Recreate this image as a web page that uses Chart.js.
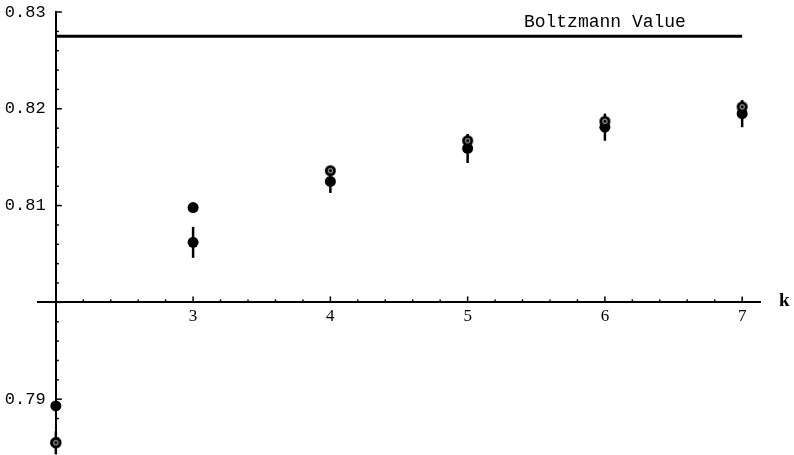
<!DOCTYPE html>
<html>
<head>
<meta charset="utf-8">
<script src="https://cdn.jsdelivr.net/npm/chart.js@4.4.0/dist/chart.umd.min.js"></script>
<style>
  html, body { margin: 0; padding: 0; background: #fff; }
</style>
</head>
<body>
<canvas id="chart" width="794" height="455"></canvas>
<script>
// k on the horizontal axis
const kValues = [2, 3, 4, 5, 6, 7];
// filled points with error bars
const estimate = [0.7855, 0.8062, 0.8125, 0.8159, 0.8181, 0.8195];
const estimateErr = [0.0012, 0.0016, 0.0012, 0.0015, 0.0014, 0.0014];
// ringed points
const ringK = [2, 4, 5, 6, 7];
const ringValues = [0.7855, 0.8136, 0.8167, 0.8187, 0.8202];
// plain filled points
const plainK = [2, 3];
const plainValues = [0.7893, 0.8098];
// reference line
const boltzmannK = [2, 7];
const boltzmann = 0.8275;
const boltzmannText = 'Boltzmann Value';
// tick labels
const xTicks = [3, 4, 5, 6, 7];
const yTicks = [0.79, 0.81, 0.82, 0.83];

const toPoints = (xs, ys) => xs.map((x, i) => ({ x: x, y: ys[i] }));

// black dot with a faint white ring, for the overlapping markers
const ringDot = document.createElement('canvas');
ringDot.width = 13;
ringDot.height = 13;
const rc = ringDot.getContext('2d');
rc.fillStyle = '#000';
rc.beginPath();
rc.arc(6.5, 6.5, 5.5, 0, Math.PI * 2);
rc.fill();
rc.strokeStyle = '#fff';
rc.lineWidth = 0.8;
rc.beginPath();
rc.arc(6.5, 6.5, 2.2, 0, Math.PI * 2);
rc.stroke();

// the axes cross inside the plot, so no room is kept for label overhang
const noOverhang = (s) => {
  s.paddingTop = 0;
  s.paddingBottom = 0;
  s.paddingLeft = 0;
  s.paddingRight = 0;
};

const extras = {
  id: 'extras',
  beforeDatasetsDraw(chart) {
    const { ctx, scales: { x, y } } = chart;
    ctx.save();
    ctx.strokeStyle = '#000';
    ctx.lineWidth = 2.5;
    kValues.forEach((k, i) => {
      const px = x.getPixelForValue(k);
      ctx.beginPath();
      ctx.moveTo(px, y.getPixelForValue(estimate[i] - estimateErr[i]));
      ctx.lineTo(px, y.getPixelForValue(estimate[i] + estimateErr[i]));
      ctx.stroke();
    });
    ctx.restore();
  },
  afterDraw(chart) {
    const { ctx, scales: { x, y } } = chart;
    const x0 = x.getPixelForValue(2);
    const y0 = y.getPixelForValue(0.8);
    ctx.save();
    ctx.strokeStyle = '#000';
    ctx.lineWidth = 1.5;
    // tick marks on the x axis, pointing up
    for (let i = 11; i <= 35; i++) {
      const px = x.getPixelForValue(i / 5);
      const len = i % 5 === 0 ? 6 : 3;
      ctx.beginPath();
      ctx.moveTo(px, y0);
      ctx.lineTo(px, y0 - len);
      ctx.stroke();
    }
    // tick marks on the y axis, pointing right
    for (let i = 393; i <= 415; i++) {
      const py = y.getPixelForValue(i / 500);
      const len = i % 5 === 0 ? 6 : 3;
      ctx.beginPath();
      ctx.moveTo(x0, py);
      ctx.lineTo(x0 + len, py);
      ctx.stroke();
    }
    ctx.fillStyle = '#000';
    ctx.font = '18px "Liberation Mono", monospace';
    ctx.textAlign = 'center';
    ctx.textBaseline = 'alphabetic';
    ctx.fillText(boltzmannText, x.getPixelForValue(6), y.getPixelForValue(boltzmann) - 9);
    ctx.font = 'bold 19px "Liberation Serif", serif';
    ctx.textAlign = 'left';
    ctx.fillText('k', x.right + 19, y0 + 4);
    ctx.restore();
  }
};

new Chart(document.getElementById('chart'), {
  type: 'scatter',
  data: {
    datasets: [
      {
        data: toPoints(ringK, ringValues),
        pointStyle: ringDot,
        order: 0
      },
      {
        data: toPoints(kValues, estimate),
        pointStyle: 'circle',
        pointRadius: 5.5,
        backgroundColor: '#000',
        borderWidth: 0,
        order: 1
      },
      {
        data: toPoints(plainK, plainValues),
        pointStyle: 'circle',
        pointRadius: 5.5,
        backgroundColor: '#000',
        borderWidth: 0,
        order: 1
      },
      {
        type: 'line',
        data: toPoints(boltzmannK, [boltzmann, boltzmann]),
        borderColor: '#000',
        borderWidth: 3,
        pointRadius: 0,
        order: 2
      }
    ]
  },
  options: {
    responsive: false,
    animation: false,
    layout: { padding: { left: 38, right: 34, top: 12, bottom: 0 } },
    plugins: { legend: { display: false }, tooltip: { enabled: false } },
    scales: {
      x: {
        type: 'linear',
        min: 1.87,
        max: 7.13,
        position: { y: 0.8 },
        afterBuildTicks: (s) => { s.ticks = xTicks.map((v) => ({ value: v })); },
        afterFit: noOverhang,
        grid: { display: true, drawOnChartArea: false, drawTicks: false },
        border: { display: true, color: '#000', width: 2 },
        ticks: {
          color: '#000',
          padding: 4,
          font: { family: '"Liberation Serif", serif', size: 17 },
          callback: (v) => String(v)
        }
      },
      y: {
        type: 'linear',
        min: 0.7848,
        max: 0.83,
        position: { x: 2 },
        afterBuildTicks: (s) => { s.ticks = yTicks.map((v) => ({ value: v })); },
        afterFit: noOverhang,
        grid: { display: true, drawOnChartArea: false, drawTicks: false },
        border: { display: true, color: '#000', width: 2 },
        ticks: {
          color: '#000',
          padding: 8,
          font: { family: '"Liberation Mono", monospace', size: 17 },
          callback: (v) => v.toFixed(2) + ' '
        }
      }
    }
  },
  plugins: [extras]
});
</script>
</body>
</html>
